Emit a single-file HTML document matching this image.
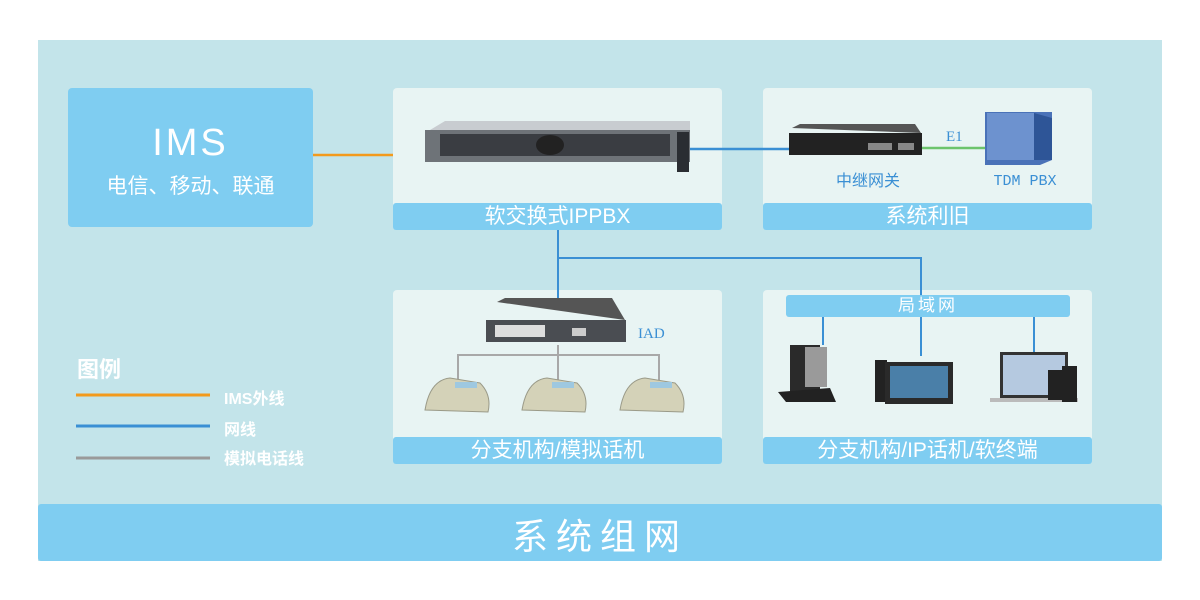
<!DOCTYPE html>
<html><head><meta charset="utf-8"><style>
*{margin:0;padding:0;box-sizing:border-box}
body{width:1200px;height:600px;background:#fff;position:relative;overflow:hidden;font-family:"Liberation Sans","Noto Sans CJK SC",sans-serif}
.a{position:absolute}
.panel{position:absolute;background:#e8f4f3;border-radius:4px}
.bar{position:absolute;background:#7fcdf1;border-radius:3px;color:#fff;text-align:center;font-size:21px}
.w{color:#fff}
</style></head><body>
<div class="a" style="left:38px;top:40px;width:1124px;height:521px;background:#c3e4ea"></div>
<div class="a" style="left:38px;top:504px;width:1124px;height:57px;background:#7fcdf1;border-radius:3px"></div>
<div class="a w" style="left:38px;top:512px;width:1124px;text-align:center;font-size:36px;letter-spacing:8px;line-height:50px">系统组网</div>

<div class="a" style="left:68px;top:88px;width:245px;height:139px;background:#7fcdf1;border-radius:4px"></div>
<div class="a w" style="left:68px;top:120px;width:245px;text-align:center;font-size:38px;letter-spacing:3px;line-height:46px">IMS</div>
<div class="a w" style="left:68px;top:172px;width:245px;text-align:center;font-size:21px;line-height:30px">电信、移动、联通</div>

<div class="panel" style="left:393px;top:88px;width:329px;height:142px"></div>
<div class="bar" style="left:393px;top:203px;width:329px;height:27px;line-height:27px">软交换式IPPBX</div>
<div class="panel" style="left:763px;top:88px;width:329px;height:142px"></div>
<div class="bar" style="left:763px;top:203px;width:329px;height:27px;line-height:27px">系统利旧</div>
<div class="panel" style="left:393px;top:290px;width:329px;height:174px"></div>
<div class="bar" style="left:393px;top:437px;width:329px;height:27px;line-height:27px">分支机构/模拟话机</div>
<div class="panel" style="left:763px;top:290px;width:329px;height:174px"></div>
<div class="bar" style="left:763px;top:437px;width:329px;height:27px;line-height:27px">分支机构/IP话机/软终端</div>
<div class="bar" style="left:786px;top:295px;width:284px;height:22px;line-height:22px;font-size:17px;letter-spacing:3px">局域网</div>

<svg class="a" style="left:0;top:0" width="1200" height="600">
<line x1="313" y1="155" x2="393" y2="155" stroke="#f39a1c" stroke-width="2.5"/>
<line x1="684" y1="149" x2="790" y2="149" stroke="#3a8fd4" stroke-width="2.5"/>
<line x1="921" y1="148" x2="985" y2="148" stroke="#6cc46c" stroke-width="2.5"/>
<path d="M558 230 V300 M558 258 H921 V295 M823 317 V345 M921 317 V356 M1034 317 V352" stroke="#3a8fd4" stroke-width="2" fill="none"/>
<path d="M558 345 V355 M458 380 V355 H659 V380 M558 355 V380" stroke="#a8a8a8" stroke-width="2" fill="none"/>
<polygon points="430,130 445,121 690,121 690,130" fill="#c8ccd0"/>
<rect x="425" y="130" width="265" height="32" fill="#6e7378"/>
<rect x="440" y="134" width="230" height="22" fill="#3a3d42"/>
<ellipse cx="550" cy="145" rx="14" ry="10" fill="#222"/>
<rect x="677" y="132" width="12" height="40" fill="#2a2d32"/>
<polygon points="792,128 800,124 915,124 921,133" fill="#555"/>
<rect x="789" y="133" width="133" height="22" fill="#222"/>
<rect x="868" y="143" width="24" height="7" fill="#888"/>
<rect x="898" y="143" width="16" height="7" fill="#888"/>
<text x="946" y="141" font-size="15" fill="#3a8fd4" font-family="Liberation Serif,serif">E1</text>
<text x="868" y="186" font-size="16" fill="#3a8fd4" text-anchor="middle" font-family="Liberation Sans,Noto Sans CJK SC,sans-serif">中继网关</text>
<text x="1025" y="185" font-size="15" fill="#3a8fd4" text-anchor="middle" font-family="Liberation Mono,monospace">TDM PBX</text>
<polygon points="985,112 1000,112 1052,112 1052,160 1040,165 985,165" fill="#4a72b8"/>
<rect x="987" y="113" width="47" height="47" fill="#6d92cf"/>
<polygon points="1034,113 1052,118 1052,160 1034,160" fill="#2e5597"/>
<polygon points="497,302 505,298 612,298 625,320" fill="#555"/>
<rect x="486" y="320" width="140" height="22" fill="#4a4d52"/>
<rect x="495" y="325" width="50" height="12" fill="#ddd"/>
<rect x="572" y="328" width="14" height="8" fill="#ccc"/>
<text x="638" y="338" font-size="15" fill="#3a8fd4" font-family="Liberation Serif,serif">IAD</text>
<g fill="#d4d2b8" stroke="#9a9a88">
<path d="M425 410 Q430 380 450 378 L480 383 Q492 395 488 412 Z"/>
<path d="M522 410 Q527 380 547 378 L577 383 Q589 395 585 412 Z"/>
<path d="M620 410 Q625 380 645 378 L675 383 Q687 395 683 412 Z"/>
</g>
<rect x="455" y="382" width="22" height="6" fill="#9ec8e0"/>
<rect x="552" y="382" width="22" height="6" fill="#9ec8e0"/>
<rect x="650" y="382" width="22" height="6" fill="#9ec8e0"/>
<rect x="790" y="345" width="30" height="50" fill="#2a2a2a"/>
<rect x="805" y="347" width="22" height="40" fill="#9a9a9a"/>
<polygon points="778,392 830,388 836,402 786,402" fill="#222"/>
<rect x="875" y="360" width="12" height="42" fill="#222"/>
<rect x="885" y="362" width="68" height="42" fill="#2a2a2a"/>
<rect x="890" y="366" width="58" height="32" fill="#4a7fa8"/>
<rect x="1000" y="352" width="68" height="46" fill="#333"/>
<rect x="1003" y="355" width="62" height="40" fill="#b5c9e0"/>
<rect x="990" y="398" width="88" height="4" fill="#bbb"/>
<rect x="1048" y="370" width="15" height="30" fill="#222"/>
<rect x="1062" y="366" width="15" height="36" fill="#222"/>
<line x1="76" y1="395" x2="210" y2="395" stroke="#f39a1c" stroke-width="3"/>
<line x1="76" y1="426" x2="210" y2="426" stroke="#3a8fd4" stroke-width="3"/>
<line x1="76" y1="458" x2="210" y2="458" stroke="#9a9a9a" stroke-width="3"/>
</svg>
<div class="a w" style="left:77px;top:352px;font-size:22px;font-weight:bold">图例</div>
<div class="a w" style="left:224px;top:385px;font-size:16px;font-weight:bold">IMS外线</div>
<div class="a w" style="left:224px;top:416px;font-size:16px;font-weight:bold">网线</div>
<div class="a w" style="left:224px;top:445px;font-size:16px;font-weight:bold">模拟电话线</div>
</body></html>
